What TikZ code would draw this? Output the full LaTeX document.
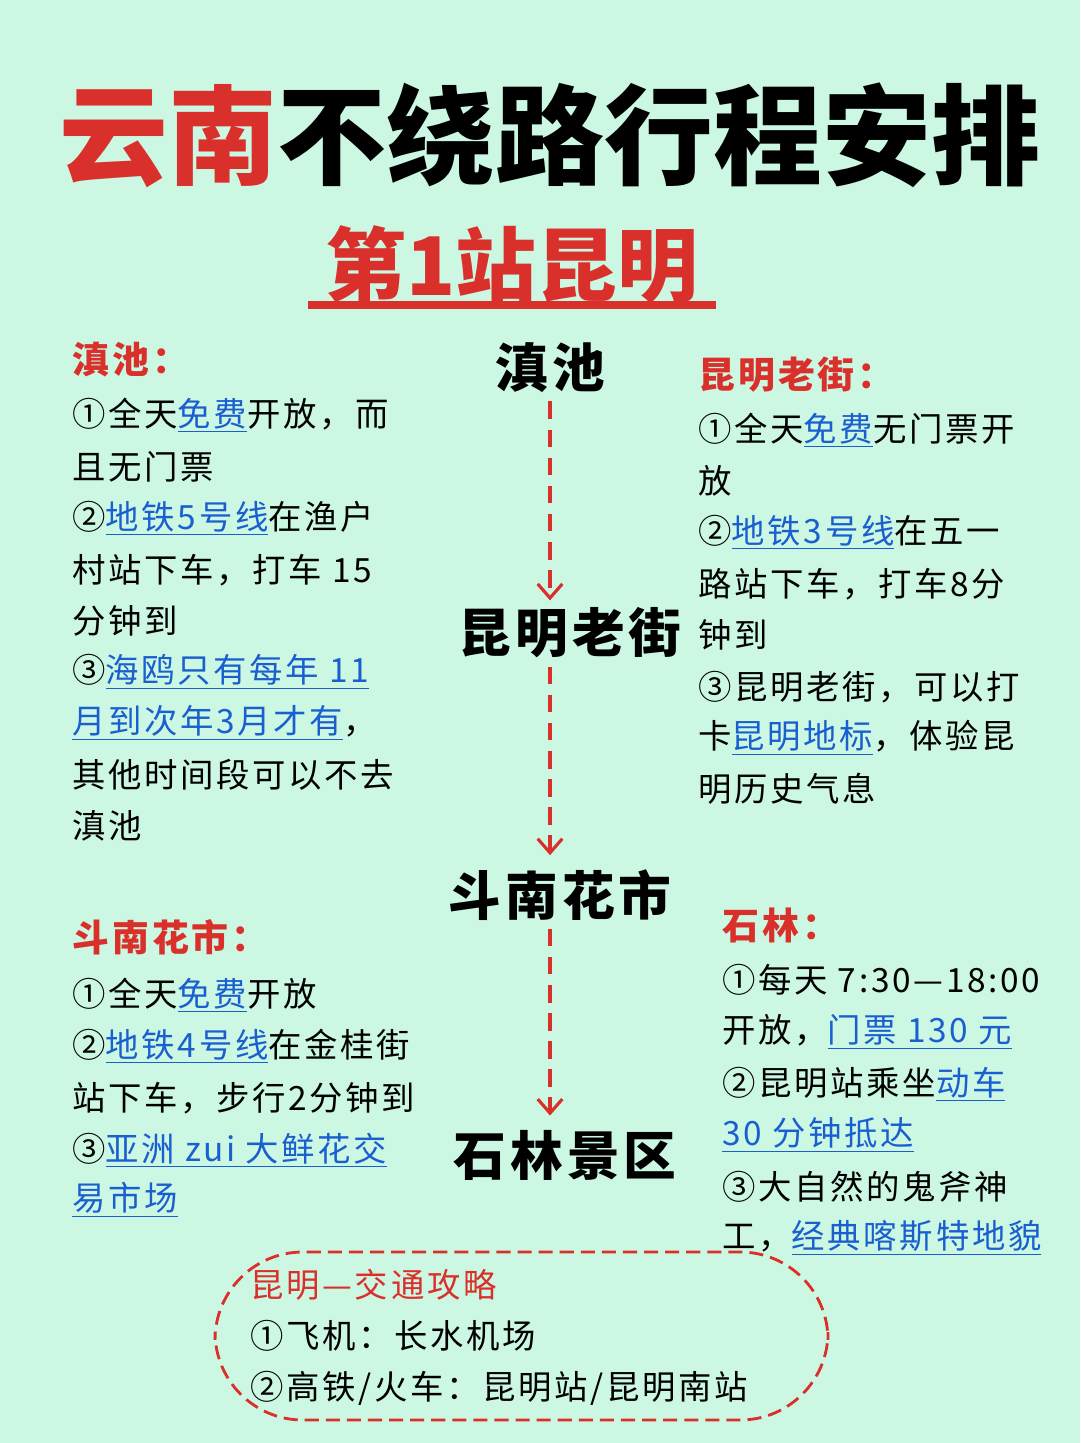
\documentclass[tikz,border=0pt]{standalone}
\usepackage{fontspec}
\setmainfont{Noto Sans CJK SC}
\newfontfamily\spaced[LetterSpace=8]{Noto Sans CJK SC}
\usetikzlibrary{arrows.meta}
\definecolor{bgmint}{HTML}{CCF7E2}
\definecolor{hdred}{HTML}{D9302B}
\definecolor{lnblue}{HTML}{1A5FD0}
\newcommand{\bl}[1]{\textcolor{lnblue}{\underline{#1}}}
\tikzset{body/.style={anchor=west,inner sep=0pt,font=\spaced\fontsize{19}{22}\selectfont}}
\tikzset{head/.style={body,text=hdred,font=\spaced\fontsize{21}{24}\selectfont\bfseries}}
\tikzset{stop/.style={inner sep=0pt,font=\spaced\fontsize{30}{34}\selectfont\bfseries}}
\tikzset{flow/.style={hdred,line width=1.8pt,dash pattern=on 10pt off 6pt,-{Straight Barb[length=8pt,width=14pt]}}}
\begin{document}
\begin{tikzpicture}[x=0.02cm,y=-0.02cm]
  \fill[bgmint] (0,0) rectangle (1080,1443);
  \useasboundingbox (0,0) rectangle (1080,1443);

  % title
  \node[inner sep=0pt,font=\fontsize{62}{66}\selectfont\bfseries] (title) at (550,135) {\textcolor{hdred}{云南}不绕路行程安排};
  \node[inner sep=0pt,text=hdred,font=\fontsize{46}{50}\selectfont\bfseries] (sub) at (512,265) {第1站昆明};
  \draw[hdred,line width=4pt] (308,305) -- (716,305);

  % stops
  \node[stop] (s1) at (550,368) {滇池};
  \node[stop] (s2) at (570,633) {昆明老街};
  \node[stop] (s3) at (560,895) {斗南花市};
  \node[stop] (s4) at (565,1155) {石林景区};
  \draw[flow] (s1.south) ++(0,8) -- ([yshift=4pt]s2.north -| s1.south);
  \draw[flow] (s2.south -| s1.south) ++(0,8) -- ([yshift=8pt]s3.north -| s1.south);
  \draw[flow] (s3.south -| s1.south) ++(0,8) -- ([yshift=8pt]s4.north -| s1.south);

  % dianchi
  \node[head] (a0) at (72,360) {滇池：};
  \node[body] (a1) at (72,415) {①全天\bl{免费}开放，而};
  \node[body] (a2) at (72,467) {且无门票};
  \node[body] (a3) at (72,518) {②\bl{地铁5号线}在渔户};
  \node[body] (a4) at (72,570) {村站下车，打车 15};
  \node[body] (a5) at (72,621) {分钟到};
  \node[body] (a6) at (72,672) {③\bl{海鸥只有每年 11}};
  \node[body] (a7) at (72,723) {\bl{月到次年3月才有}，};
  \node[body] (a8) at (72,775) {其他时间段可以不去};
  \node[body] (a9) at (72,826) {滇池};

  % laojie
  \node[head] (b0) at (698,375) {昆明老街：};
  \node[body] (b1) at (698,430) {①全天\bl{免费}无门票开};
  \node[body] (b2) at (698,481) {放};
  \node[body] (b3) at (698,532) {②\bl{地铁3号线}在五一};
  \node[body] (b4) at (698,584) {路站下车，打车8分};
  \node[body] (b5) at (698,635) {钟到};
  \node[body] (b6) at (698,687) {③昆明老街，可以打};
  \node[body] (b7) at (698,738) {卡\bl{昆明地标}，体验昆};
  \node[body] (b8) at (698,789) {明历史气息};

  % dounan
  \node[head] (c0) at (72,937) {斗南花市：};
  \node[body] (c1) at (72,995) {①全天\bl{免费}开放};
  \node[body] (c2) at (72,1046) {②\bl{地铁4号线}在金桂街};
  \node[body] (c3) at (72,1098) {站下车，步行2分钟到};
  \node[body] (c4) at (72,1150) {③\bl{亚洲 zui 大鲜花交}};
  \node[body] (c5) at (72,1200) {\bl{易市场}};

  % shilin
  \node[head] (d0) at (722,925) {石林：};
  \node[body] (d1) at (722,980) {①每天 7:30—18:00};
  \node[body] (d2) at (722,1032) {开放，\bl{门票 130 元}};
  \node[body] (d3) at (722,1084) {②昆明站乘坐\bl{动车}};
  \node[body] (d4) at (722,1135) {\bl{30 分钟抵达}};
  \node[body] (d5) at (722,1187) {③大自然的鬼斧神};
  \node[body] (d6) at (722,1238) {工，\bl{经典喀斯特地貌}};

  % traffic
  \draw[hdred,line width=1.6pt,dash pattern=on 8pt off 4pt,rounded corners=50pt] (215,1252) rectangle (828,1420);
  \node[body,text=hdred] (t0) at (250,1285) {昆明—交通攻略};
  \node[body] (t1) at (250,1336) {①飞机：长水机场};
  \node[body] (t2) at (250,1388) {②高铁/火车：昆明站/昆明南站};
\end{tikzpicture}
\end{document}
